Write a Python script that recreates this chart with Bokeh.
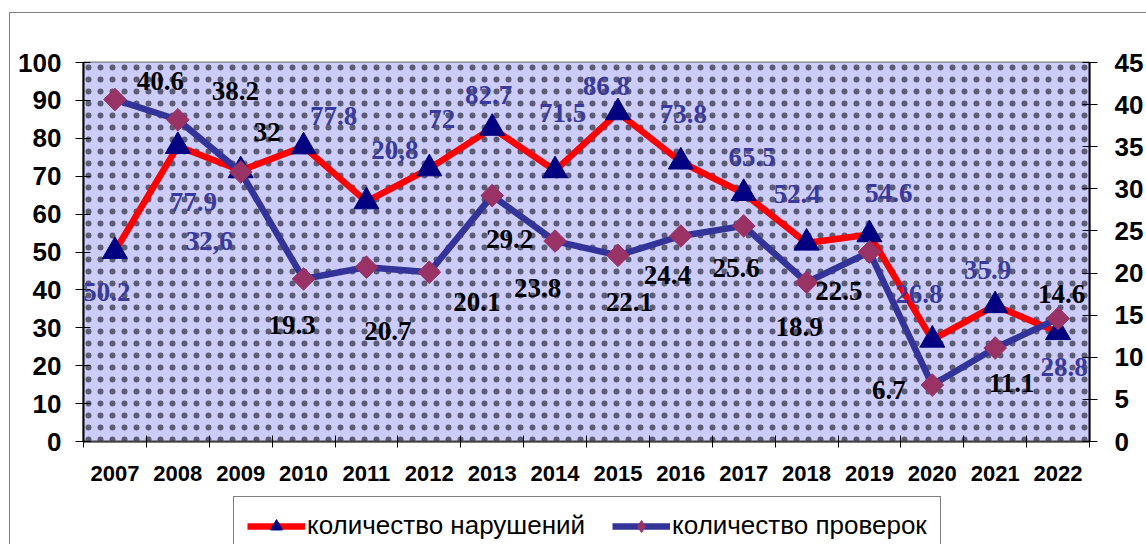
import numpy as np
from bokeh.plotting import figure
from bokeh.layouts import column
from bokeh.models import (Range1d, LinearAxis, FixedTicker, BoxAnnotation, Legend, LegendItem,
                          ColumnDataSource, LabelSet)
from bokeh.embed import file_html
from bokeh.resources import INLINE

# ---- data ----
years = [2007, 2008, 2009, 2010, 2011, 2012, 2013, 2014, 2015, 2016, 2017, 2018, 2019, 2020, 2021, 2022]
violations = [50.2, 77.9, 71.5, 77.8, 63.3, 72, 82.7, 71.5, 86.8, 73.8, 65.5, 52.4, 54.6, 26.8, 35.9, 28.8]
violation_labels = ["50.2", "77.9", "32,6", "77.8", "20,8", "72", "82.7", "71.5", "86.8", "73.8",
                    "65.5", "52.4", "54.6", "26.8", "35.9", "28.8"]
inspections = [40.6, 38.2, 32, 19.3, 20.7, 20.1, 29.2, 23.8, 22.1, 24.4, 25.6, 18.9, 22.5, 6.7, 11.1, 14.6]
inspection_labels = ["40.6", "38.2", "32", "19.3", "20.7", "20.1", "29.2", "23.8", "22.1", "24.4",
                     "25.6", "18.9", "22.5", "6.7", "11.1", "14.6"]
series_names = ["количество нарушений", "количество проверок"]

# ---- label placement (screen px offsets, layout only; dy positive = down) ----
v_dx = [-8, 15.5, -31.5, 30, 28.5, 12.5, -3.5, 7.5, -11.5, 2.5, 8.5, -9.5, 19.5, -13.5, -7.5, 6]
v_dy = [41, 56, 70, -31, -52, -50, -33, -58, -27, -48, -36, -49, -42, -46, -35, 35]
i_dx = [45.5, 57.5, 26.5, -11.5, 21.5, 47.5, 17.5, -17.5, 11.5, -13.5, -7.5, -7.5, -30.5, -43.5, 16.5, 3.5]
i_dy = [-19, -29, -39.5, 46.5, 64, 30, 43, 47, 47, 39.5, 42.6, 45, 38.5, 5.4, 34.5, -25]

RED, NAVY, PURPLE, PLUM = "#FF0000", "#000080", "#333399", "#993366"

p = figure(width=1136, height=478, output_backend="svg", toolbar_location=None,
           x_range=Range1d(years[0] - 0.5, years[-1] + 0.5), y_range=Range1d(0, 100),
           min_border_left=73, min_border_right=56, min_border_top=49, min_border_bottom=50,
           x_axis_location=None, y_axis_location=None)
p.extra_y_ranges = {"right": Range1d(0, 45)}
p.xgrid.visible = False
p.ygrid.visible = False
p.background_fill_color = "#CCCCFF"
p.border_fill_color = "white"
p.outline_line_color = "#808080"
p.outline_line_width = 2

# dotted pattern
p.add_layout(BoxAnnotation(fill_color="#CCCCFF", fill_alpha=1.0, line_color=None,
                           hatch_pattern="dot", hatch_color="black", hatch_scale=12,
                           hatch_weight=0.1, hatch_alpha=0.55, level="underlay"))

# axes
yl = LinearAxis(ticker=FixedTicker(ticks=list(range(0, 101, 10))))
yr = LinearAxis(y_range_name="right", ticker=FixedTicker(ticks=list(range(0, 46, 5))))
for ax, st in ((yl, 14), (yr, 17)):
    ax.axis_line_color = "black"
    ax.axis_line_width = 2
    ax.major_tick_line_color = "black"
    ax.major_tick_line_width = 1
    ax.major_tick_in = 7
    ax.major_tick_out = 8
    ax.minor_tick_line_color = None
    ax.major_label_text_font = "Liberation Sans"
    ax.major_label_text_font_style = "bold"
    ax.major_label_text_font_size = "26px"
    ax.major_label_text_color = "black"
    ax.major_label_standoff = st
p.add_layout(yl, "left")
p.add_layout(yr, "right")

xb = LinearAxis(ticker=FixedTicker(ticks=years, minor_ticks=[y + 0.5 for y in [years[0] - 1] + years]))
xb.axis_line_color = "#404040"
xb.axis_line_width = 2
xb.major_tick_line_color = None
xb.major_tick_in = 0
xb.major_tick_out = 0
xb.minor_tick_line_color = "black"
xb.minor_tick_in = 6
xb.minor_tick_out = 6
xb.major_label_text_font = "Liberation Sans"
xb.major_label_text_font_style = "bold"
xb.major_label_text_font_size = "22px"
xb.major_label_text_color = "black"
xb.major_label_standoff = 18
p.add_layout(xb, "below")

# series
p.line(years, violations, line_color=RED, line_width=6.5)
p.scatter(years, violations, marker="triangle", size=25, fill_color=NAVY, line_color=NAVY)
p.line(years, inspections, line_color=PURPLE, line_width=6.5, y_range_name="right")
p.scatter(years, inspections, marker="square", angle=np.pi / 4, size=16,
          fill_color=PLUM, line_color=PLUM, y_range_name="right")

src_v = ColumnDataSource(dict(x=years, y=violations, t=violation_labels, dx=v_dx,
                              dy=[-d for d in v_dy]))
src_i = ColumnDataSource(dict(x=years, y=inspections, t=inspection_labels, dx=i_dx,
                              dy=[-d for d in i_dy]))
p.add_layout(LabelSet(x="x", y="y", text="t", x_offset="dx", y_offset="dy", source=src_v,
                      text_font="Liberation Serif", text_font_style="bold", text_font_size="27px",
                      text_color="#3A3A9E", text_align="center", text_baseline="middle"))
p.add_layout(LabelSet(x="x", y="y", text="t", x_offset="dx", y_offset="dy", source=src_i,
                      y_range_name="right",
                      text_font="Liberation Serif", text_font_style="bold", text_font_size="27px",
                      text_color="black", text_align="center", text_baseline="middle"))

# legend strip (frame aligned with main plot's frame)
q = figure(width=1136, height=53, output_backend="svg", toolbar_location=None,
           x_range=Range1d(0, 1), y_range=Range1d(0, 1),
           min_border_left=0, min_border_right=0, min_border_top=0, min_border_bottom=0,
           x_axis_location=None, y_axis_location=None)
q.xgrid.visible = False
q.ygrid.visible = False
q.outline_line_color = None
hidden = dict(x=[2, 3], y=[2, 3])  # legend-only renderers, outside the visible range
l1 = q.line(x="x", y="y", source=ColumnDataSource(hidden), line_color=RED, line_width=6.5)
k1 = q.scatter(x="x", y="y", source=ColumnDataSource(hidden), marker="triangle", size=20,
               fill_color=NAVY, line_color=NAVY)
l2 = q.line(x="x", y="y", source=ColumnDataSource(hidden), line_color=PURPLE, line_width=6.5)
k2 = q.scatter(x="x", y="y", source=ColumnDataSource(hidden), marker="diamond",
               size=20, fill_color=PLUM, line_color=PLUM)
legend = Legend(items=[LegendItem(label=series_names[0], renderers=[l1, k1]),
                       LegendItem(label=series_names[1], renderers=[l2, k2])],
                location=(150, -11), orientation="horizontal", margin=0,
                label_text_font="Liberation Sans", label_text_font_size="26px",
                label_text_color="black", glyph_width=58, glyph_height=30, spacing=27,
                label_standoff=2, padding=13, border_line_color="black", border_line_width=1,
                background_fill_color="white", background_fill_alpha=1.0)
q.add_layout(legend, "center")

page = column(p, q, spacing=0, margin=(12, 0, 0, 9),
              styles={"border-left": "1px solid #808080", "border-top": "1px solid #808080"})

open("out.html", "w").write(file_html(page, INLINE))
